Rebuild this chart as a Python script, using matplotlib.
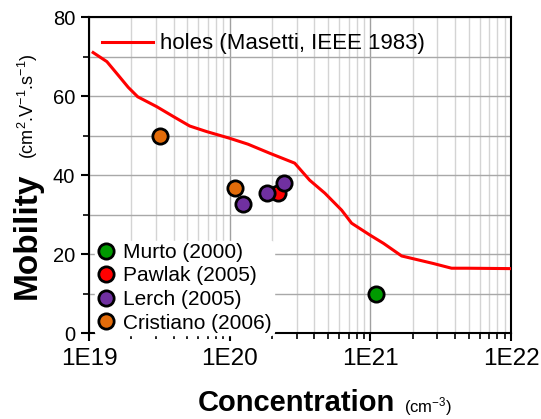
import matplotlib
matplotlib.use("Agg")
import matplotlib.pyplot as plt
import matplotlib.ticker as plticker
import numpy as np

plt.rcParams['font.family'] = ['Liberation Sans', 'DejaVu Sans']
plt.rcParams['mathtext.fontset'] = 'custom'
plt.rcParams['mathtext.rm'] = 'Liberation Sans'
plt.rcParams['mathtext.it'] = 'Liberation Sans'

# Masetti hole mobility curve (cm-3, cm2/Vs)
masetti_conc = [1.07e19, 1.34e19, 1.61e19, 1.9e19, 2.22e19, 3.03e19, 3.98e19,
                5.2e19, 6.85e19, 1.0e20, 1.35e20, 1.93e20, 2.9e20, 3.7e20,
                4.75e20, 6.25e20, 7.36e20, 9.93e20, 1.24e21, 1.67e21, 2.8e21,
                3.78e21, 4.84e21, 1.0e22]
masetti_mob = [71.0, 68.7, 65.3, 62.2, 59.8, 57.3, 54.8, 52.4, 51.0, 49.3,
               47.8, 45.5, 43.0, 38.7, 35.4, 31.1, 27.8, 24.8, 22.7, 19.5,
               17.6, 16.4, 16.4, 16.3]

# measured points
authors = ['Murto (2000)', 'Pawlak (2005)', 'Lerch (2005)', 'Cristiano (2006)']
colors = ['#009a00', '#ff0000', '#7030a0', '#e36c0a']
meas_conc = [[1.1e21], [2.19e20], [1.24e20, 1.85e20, 2.43e20], [3.2e19, 1.09e20]]
meas_mob = [[10.0], [35.4], [32.6, 35.4, 38.1], [50.0, 36.7]]

fig = plt.figure(figsize=(5.41, 4.19), dpi=100)
ax = fig.add_axes([89 / 541, 86 / 419, 422 / 541, 316 / 419])

ax.set_xscale('log')
ax.set_xlim(1e19, 1e22)
ax.set_ylim(0, 80)

# grid
ax.grid(True, which='major', axis='x', color='#a0a0a0', lw=1.0, zorder=0)
ax.grid(True, which='minor', axis='x', color='#d4d4d4', lw=1.0, zorder=0)
ax.grid(True, which='both', axis='y', color='#a8a8a8', lw=1.0, zorder=0)

line, = ax.plot(masetti_conc, masetti_mob, color='#ff0000', lw=2.2, zorder=3,
                label='holes (Masetti, IEEE 1983)')

# draw later series first so Lerch sits over Pawlak
order = [3, 0, 1, 2]
pts = {}
for i in order:
    h, = ax.plot(meas_conc[i], meas_mob[i], 'o', ms=11, mfc=colors[i],
                 mec='black', mew=2, zorder=5, label=authors[i])
    pts[i] = h
handles = [pts[i] for i in range(4)]

leg1 = ax.legend(handles=[line], loc='upper left', frameon=False,
                 fontsize=16, handlelength=2.3, handletextpad=0.3,
                 borderaxespad=0.2, bbox_to_anchor=(0.0, 0.99))
ax.add_artist(leg1)
leg2 = ax.legend(handles=handles, loc='lower left', frameon=True,
                 fontsize=15, handlelength=0.8, handletextpad=0.45,
                 labelspacing=0.22, borderpad=0.1, borderaxespad=0.1,
                 bbox_to_anchor=(0.01, -0.012))
leg2.get_frame().set_facecolor('white')
leg2.get_frame().set_edgecolor('white')
leg2.get_frame().set_alpha(1.0)
leg2.set_zorder(4)

# ticks
ax.yaxis.set_major_locator(plticker.MultipleLocator(20))
ax.yaxis.set_minor_locator(plticker.MultipleLocator(10))
ax.xaxis.set_major_locator(plticker.LogLocator(base=10))
ax.xaxis.set_minor_locator(plticker.LogLocator(base=10, subs=np.arange(2, 10)))
ax.xaxis.set_minor_formatter(plticker.NullFormatter())
ax.xaxis.set_major_formatter(
    plticker.FuncFormatter(lambda v, p: '1E%d' % round(np.log10(v))))
ax.tick_params(axis='both', which='major', direction='out', length=6,
               width=1.5, colors='black')
ax.tick_params(axis='both', which='minor', direction='out', length=4,
               width=1.2)
ax.tick_params(axis='x', which='major', labelsize=17.5, pad=5)
ax.tick_params(axis='y', which='major', labelsize=14.5, pad=4)
for s in ax.spines.values():
    s.set_linewidth(1.5)

# axis titles
fig.text(27 / 541, 1 - 236 / 419, 'Mobility', rotation=90, fontsize=24,
         fontweight='bold', ha='center', va='center')
fig.text(28 / 541, 1 - 106 / 419, r'(cm$^{2}$.V$^{-1}$.s$^{-1}$)',
         rotation=90, fontsize=13, ha='center', va='center')
fig.text(296 / 541, 1 - 403 / 419, 'Concentration', fontsize=21,
         fontweight='bold', ha='center', va='center')
fig.text(404 / 541, 1 - 407 / 419, r'(cm$^{-3}$)', fontsize=12,
         ha='left', va='center')

fig.savefig('out.png', dpi=100)
